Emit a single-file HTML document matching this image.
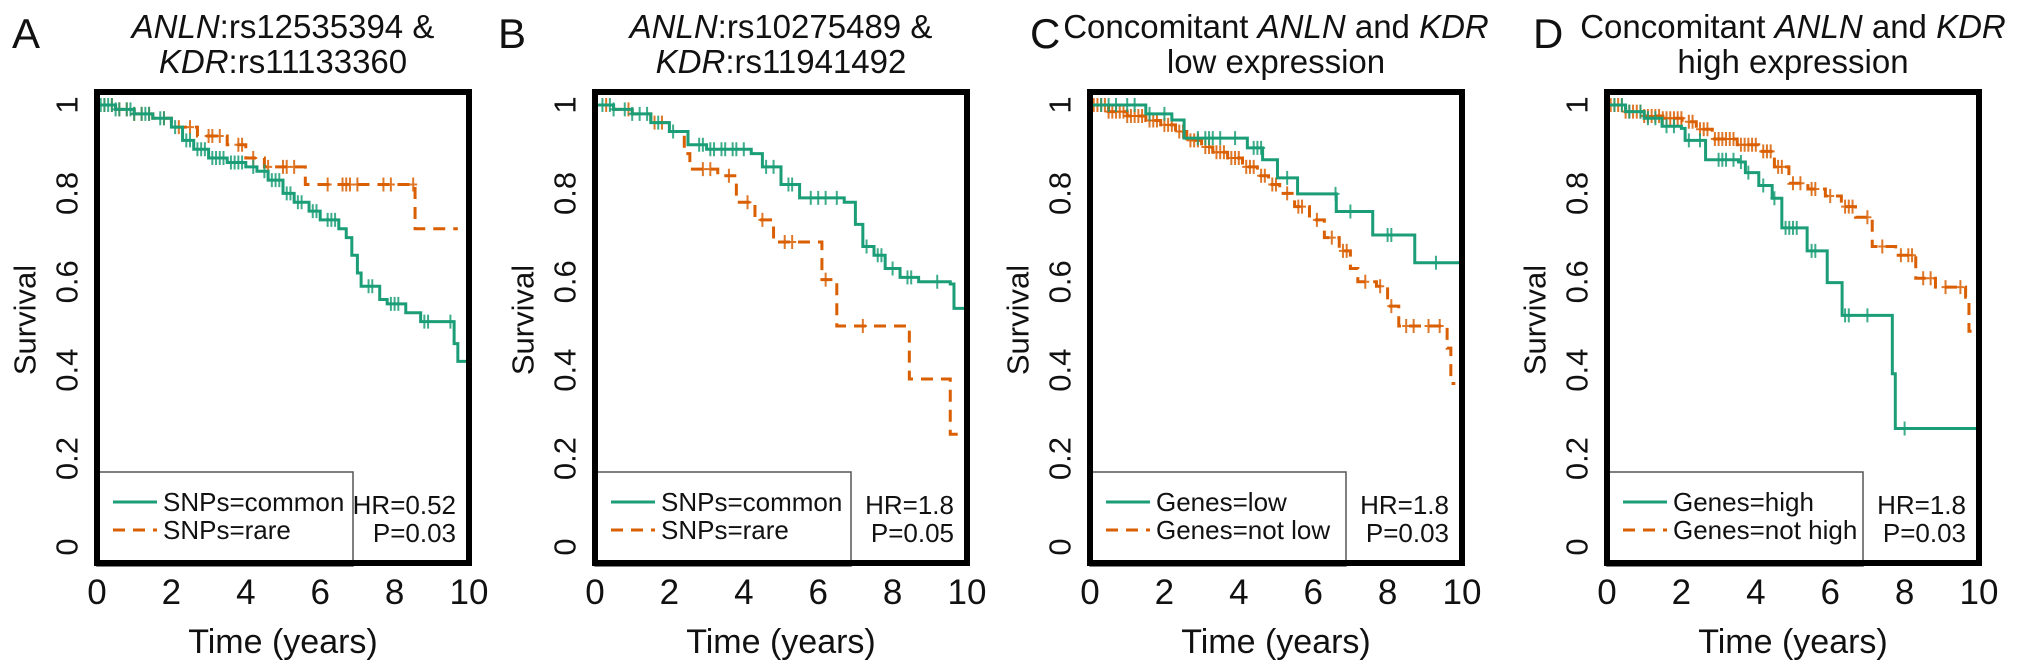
<!DOCTYPE html>
<html><head><meta charset="utf-8">
<style>
html,body{margin:0;padding:0;background:#fff;}
svg{display:block;font-family:"Liberation Sans",Arial,sans-serif;}
</style></head>
<body>
<svg id="fig" width="2032" height="669" viewBox="0 0 2032 669" xmlns="http://www.w3.org/2000/svg"></svg>
<script>
// ---------- Panel A data ----------
const aCommonTimes=[0,0.5,1,1.5,2,2.3,2.6,3,3.5,4,4.3,4.6,5,5.3,5.7,6,6.5,6.7,6.85,7.0,7.1,7.6,7.8,8.3,8.7,9.6,9.7,10];
const aCommonSurv=[1,0.99,0.98,0.97,0.95,0.92,0.9,0.88,0.87,0.86,0.85,0.83,0.8,0.78,0.76,0.74,0.72,0.7,0.66,0.62,0.59,0.56,0.55,0.53,0.51,0.46,0.42,0.42];
const aCommonCensor=[0.1,0.2,0.3,0.4,0.5,0.6,0.8,0.9,1.0,1.2,1.3,1.4,1.7,1.8,2.1,2.4,2.5,2.7,2.8,2.9,3.1,3.2,3.3,3.4,3.6,3.7,3.8,3.9,4.2,4.5,4.7,4.8,4.9,5.1,5.2,5.4,5.5,5.8,5.9,6.2,6.3,6.4,7.3,7.4,7.9,8.0,8.1,8.8,8.9,9.5];
const aRareTimes=[0,0.5,1,1.5,2,2.7,3.5,4,4.5,5.6,8.55,9.7];
const aRareSurv=[1,0.99,0.98,0.97,0.95,0.93,0.91,0.88,0.86,0.82,0.72,0.72];
const aRareCensor=[0.2,0.4,0.6,0.8,1.0,1.2,1.4,1.8,2.2,2.5,3.0,3.1,3.3,3.8,3.9,4.2,4.6,5.0,5.1,5.3,6.2,6.6,6.7,6.8,7.0,7.7,7.9,8.5];
// ---------- Panel B data ----------
const bCommonTimes=[0,0.5,1,1.5,2,2.5,3,4.2,4.5,5,5.5,6.7,7.0,7.2,7.5,7.8,8.2,8.7,9.55,9.65,10];
const bCommonSurv=[1,0.99,0.98,0.96,0.94,0.91,0.9,0.89,0.86,0.82,0.79,0.78,0.73,0.68,0.66,0.63,0.61,0.6,0.595,0.54,0.54];
const bCommonCensor=[0.2,0.4,0.5,0.8,1.0,1.2,1.4,1.7,2.1,2.8,2.9,3.1,3.2,3.4,3.5,3.7,3.8,4.0,4.6,4.8,5.2,5.3,5.8,6.0,6.2,6.5,7.3,7.6,7.7,8.0,8.4,8.5,9.2];
const bRareTimes=[0,0.5,1,1.5,2,2.4,2.55,3.3,3.8,4.3,4.8,6.1,6.5,8.45,9.55,9.85];
const bRareSurv=[1,0.99,0.98,0.96,0.94,0.89,0.855,0.84,0.78,0.74,0.69,0.605,0.5,0.38,0.255,0.255];
const bRareCensor=[0.3,0.9,1.6,1.8,2.9,3.1,3.6,4.1,4.5,5.1,5.3,6.2,7.2];
// ---------- Panel C data ----------
const cLowTimes=[0,1.5,2.2,2.53,4.23,4.64,5.04,5.58,6.62,7.6,8.73,10];
const cLowSurv=[1,0.98,0.966,0.925,0.903,0.876,0.835,0.799,0.759,0.706,0.643,0.643];
const cLowCensor=[0.3,0.5,0.7,1.0,1.2,1.6,2.0,2.9,3.1,3.2,3.3,3.5,3.9,4.4,4.5,4.6,5.3,6.6,7.0,8.0,8.1,9.3];
const cNotLowTimes=[0,0.5,1,1.5,1.9,2.3,2.6,3.0,3.3,3.7,4.1,4.5,4.8,5.1,5.5,5.9,6.3,6.7,7.0,7.2,7.7,8.0,8.3,9.6,9.7,9.82];
const cNotLowSurv=[1,0.985,0.975,0.965,0.955,0.94,0.92,0.905,0.893,0.88,0.86,0.84,0.82,0.8,0.77,0.74,0.7,0.67,0.63,0.6,0.59,0.545,0.5,0.45,0.37,0.37];
const cNotLowCensor=[0.1,0.2,0.3,0.4,0.5,0.6,0.7,0.8,0.9,1.0,1.1,1.2,1.3,1.4,1.6,1.7,1.8,2.0,2.1,2.2,2.4,2.5,2.7,2.8,2.9,3.1,3.2,3.4,3.5,3.6,3.8,3.9,4.0,4.2,4.3,4.4,4.6,4.7,4.9,5.0,5.3,5.6,5.7,6.1,6.5,6.8,6.9,7.4,7.8,8.1,8.5,8.7,9.1,9.4];
// ---------- Panel D data ----------
const dHighTimes=[0,0.5,1,1.48,2.0,2.1,2.65,3.54,3.72,4.08,4.44,4.7,5.38,5.92,6.32,7.67,7.75,10];
const dHighSurv=[1,0.985,0.97,0.952,0.947,0.92,0.876,0.871,0.847,0.818,0.789,0.722,0.67,0.598,0.524,0.392,0.268,0.268];
const dHighCensor=[0.2,0.4,0.6,0.9,1.1,1.3,1.6,1.8,2.2,2.5,3.0,3.1,3.2,3.4,3.6,3.8,4.2,4.5,4.8,4.9,5.0,5.1,5.5,5.6,6.4,6.5,7.0,8.0];
const dNotHighTimes=[0,0.5,1,1.5,2.02,2.4,2.83,3.5,4.08,4.5,4.89,5.4,5.87,6.3,6.68,7.13,7.76,8.3,8.83,9.64,9.73,9.8];
const dNotHighSurv=[1,0.985,0.975,0.97,0.962,0.945,0.923,0.91,0.895,0.86,0.823,0.81,0.794,0.77,0.746,0.68,0.66,0.608,0.588,0.565,0.488,0.488];
const dNotHighCensor=[0.1,0.2,0.3,0.4,0.5,0.6,0.7,0.8,0.9,1.0,1.1,1.2,1.3,1.4,1.5,1.6,1.7,1.8,1.9,2.0,2.2,2.3,2.5,2.6,2.7,2.9,3.0,3.1,3.2,3.3,3.4,3.6,3.7,3.8,3.9,4.0,4.2,4.3,4.4,4.6,4.7,5.0,5.2,5.5,5.6,6.0,6.4,6.5,6.6,7.0,7.4,7.9,8.1,8.2,8.5,8.7,9.1,9.5];
// ---------- labels ----------
const xTicks=[0,2,4,6,8,10];
const yTicks=[0,0.2,0.4,0.6,0.8,1];
const yTickLabels=["0","0.2","0.4","0.6","0.8","1"];

const GREEN="#1b9e77", ORANGE="#d95f02";
const NS="http://www.w3.org/2000/svg";
const svg=document.getElementById("fig");
function mk(tag,attrs,parent){const e=document.createElementNS(NS,tag);for(const k in attrs)e.setAttribute(k,attrs[k]);(parent||svg).appendChild(e);return e;}

const panels=[
 {id:"a",letter:"A",letterX:12,left:94,
  t1:[["ANLN",true],[":rs12535394 &",false]],t2:[["KDR",true],[":rs11133360",false]],
  s1:{name:"SNPs=common",times:aCommonTimes,surv:aCommonSurv,censor:aCommonCensor},
  s2:{name:"SNPs=rare",times:aRareTimes,surv:aRareSurv,censor:aRareCensor},hr:"HR=0.52",p:"P=0.03"},
 {id:"b",letter:"B",letterX:498,left:592,
  t1:[["ANLN",true],[":rs10275489 &",false]],t2:[["KDR",true],[":rs11941492",false]],
  s1:{name:"SNPs=common",times:bCommonTimes,surv:bCommonSurv,censor:bCommonCensor},
  s2:{name:"SNPs=rare",times:bRareTimes,surv:bRareSurv,censor:bRareCensor},hr:"HR=1.8",p:"P=0.05"},
 {id:"c",letter:"C",letterX:1030,left:1087,
  t1:[["Concomitant ",false],["ANLN",true],[" and ",false],["KDR",true]],t2:[["low expression",false]],
  s1:{name:"Genes=low",times:cLowTimes,surv:cLowSurv,censor:cLowCensor},
  s2:{name:"Genes=not low",times:cNotLowTimes,surv:cNotLowSurv,censor:cNotLowCensor},hr:"HR=1.8",p:"P=0.03"},
 {id:"d",letter:"D",letterX:1533,left:1604,
  t1:[["Concomitant ",false],["ANLN",true],[" and ",false],["KDR",true]],t2:[["high expression",false]],
  s1:{name:"Genes=high",times:dHighTimes,surv:dHighSurv,censor:dHighCensor},
  s2:{name:"Genes=not high",times:dNotHighTimes,surv:dNotHighSurv,censor:dNotHighCensor},hr:"HR=1.8",p:"P=0.03"}
];

const W=378, TOP=89, BOT=566;
function stepVal(times,surv,t){let v=surv[0];for(let i=0;i<times.length;i++){if(times[i]<=t)v=surv[i];else break;}return v;}

panels.forEach(P=>{
  const L=P.left, R=L+W;
  const x=t=>L+3+(t/10)*(W-6);
  const y=v=>547-v*442;
  const g=mk("g",{});
  
  

  const letter=mk("text",{x:P.letterX,y:48,"font-size":42,fill:"#111"},g);
  letter.textContent=P.letter;
  
  

  [[P.t1,38],[P.t2,73]].forEach((ln,i)=>{
    const t=mk("text",{x:L+W/2,y:ln[1],"font-size":33,"text-anchor":"middle",fill:"#111"},g);
    
    
    ln[0].forEach(seg=>{const s=mk("tspan",{},t);if(seg[1])s.setAttribute("font-style","italic");s.textContent=seg[0];});
  });

  yTicks.forEach((v,i)=>{
    const tx=L-27, ty=y(v);
    const t=mk("text",{x:tx,y:ty,"font-size":31,"text-anchor":"middle","dominant-baseline":"central",transform:`rotate(-90 ${tx} ${ty})`,fill:"#111"},g);
    t.textContent=yTickLabels[i];
    
    
  });
  const yl=mk("text",{x:L-69,y:320,"font-size":31,"text-anchor":"middle","dominant-baseline":"central",transform:`rotate(-90 ${L-69} 320)`,fill:"#111"},g);
  yl.textContent="Survival";
  
  

  xTicks.forEach(v=>{
    const t=mk("text",{x:x(v),y:604,"font-size":35,"text-anchor":"middle",fill:"#111"},g);
    t.textContent=String(v);
    
    
  });
  const xl=mk("text",{x:L+W/2,y:653,"font-size":34,"text-anchor":"middle",fill:"#111"},g);
  xl.textContent="Time (years)";
  
  

  [[P.s2,ORANGE,"12 8"],[P.s1,GREEN,null]].forEach(([s,col,dash],k)=>{
    let d=`M${x(s.times[0])},${y(s.surv[0])}`;
    for(let i=1;i<s.times.length;i++){d+=` H${x(s.times[i])} V${y(s.surv[i])}`;}
    const p=mk("path",{d:d,fill:"none",stroke:col,"stroke-width":3},g);
    if(dash)p.setAttribute("stroke-dasharray",dash);
    
    
    s.censor.forEach(t=>{
      const v=stepVal(s.times,s.surv,t);
      const cx=x(t), cy=y(v);
      const m=mk("path",{d:`M${cx},${cy-7} V${cy+7} M${cx-4},${cy} H${cx+4}`,stroke:col,"stroke-width":2,fill:"none","stroke-opacity":0.85},g);
      
      
    });
  });

  const lg=mk("g",{},g);
  
  
  mk("rect",{x:L+3,y:472,width:256,height:BOT-472,fill:"#fff",stroke:"#555","stroke-width":1.5},lg);
  mk("line",{x1:L+19,y1:502,x2:L+63,y2:502,stroke:GREEN,"stroke-width":3},lg);
  mk("line",{x1:L+19,y1:530,x2:L+63,y2:530,stroke:ORANGE,"stroke-width":3,"stroke-dasharray":"12 8"},lg);
  const e1=mk("text",{x:L+69,y:511,"font-size":26,fill:"#111"},lg);e1.textContent=P.s1.name;
  
  
  const e2=mk("text",{x:L+69,y:539,"font-size":26,fill:"#111"},lg);e2.textContent=P.s2.name;
  
  
  const h=mk("text",{x:R-16,y:514,"font-size":26,"text-anchor":"end",fill:"#111"},g);h.textContent=P.hr;
  
  
  const pv=mk("text",{x:R-16,y:542,"font-size":26,"text-anchor":"end",fill:"#111"},g);pv.textContent=P.p;
  
  

  const box=mk("rect",{x:L+3,y:TOP+3,width:W-6,height:BOT-TOP-6,fill:"none",stroke:"#000","stroke-width":6},g);
  
  
});
</script>
</body></html>
